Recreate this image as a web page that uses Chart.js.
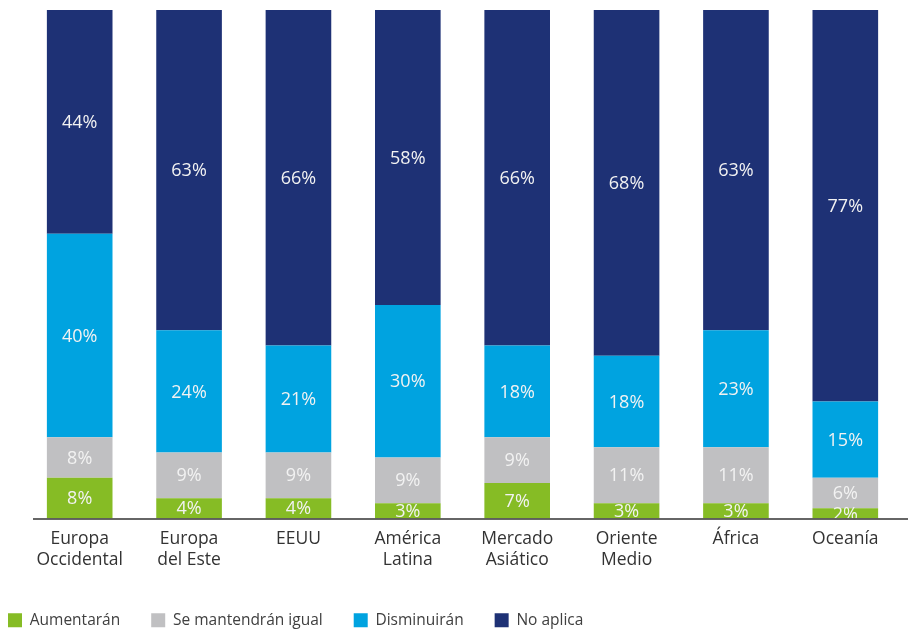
<!DOCTYPE html>
<html>
<head>
<meta charset="utf-8">
<script src="https://cdn.jsdelivr.net/npm/chart.js@4/dist/chart.umd.min.js"></script>
<style>
  html, body { margin: 0; padding: 0; background: #fff; }
  #wrap { width: 913px; height: 631px; }
</style>
</head>
<body>
<div id="wrap"><canvas id="chart"></canvas></div>
<script>
// regions (two-line labels)
const regiones = [
  ['Europa', 'Occidental'], ['Europa', 'del Este'], ['EEUU'], ['América', 'Latina'],
  ['Mercado', 'Asiático'], ['Oriente', 'Medio'], ['África'], ['Oceanía']
];

// percent of answers per region
const aumentaran   = [8, 4, 4, 3, 7, 3, 3, 2];
const mantendran   = [8, 9, 9, 9, 9, 11, 11, 6];
const disminuiran  = [40, 24, 21, 30, 18, 18, 23, 15];
const noAplica     = [44, 63, 66, 58, 66, 68, 63, 77];

const FONT = '"Open Sans", "Noto Sans", sans-serif';

// white % text in the middle of every segment
const segmentLabels = {
  id: 'segmentLabels',
  afterDatasetsDraw(chart) {
    const ctx = chart.ctx;
    ctx.save();
    ctx.font = '18px ' + FONT;
    ctx.fillStyle = '#f2f2f2';
    ctx.textAlign = 'center';
    ctx.textBaseline = 'middle';
    chart.data.datasets.forEach((ds, i) => {
      chart.getDatasetMeta(i).data.forEach((bar, j) => {
        ctx.fillText(ds.data[j] + '%', bar.x, (bar.y + bar.base) / 2 + 1);
      });
    });
    // baseline rule, a bit shifted right like the original
    const a = chart.chartArea;
    ctx.strokeStyle = '#333';
    ctx.lineWidth = 1.5;
    ctx.beginPath();
    ctx.moveTo(a.left + 8, a.bottom + 0.5);
    ctx.lineTo(a.right + 8, a.bottom + 0.5);
    ctx.stroke();
    ctx.restore();
  }
};

// nudge the legend to the bottom-left corner
const legendShift = {
  id: 'legendShift',
  afterLayout(chart) {
    chart.legend.left = -23;
    chart.legend.top += 7;
  }
};

new Chart(document.getElementById('chart'), {
  type: 'bar',
  data: {
    labels: regiones,
    datasets: [
      { label: 'Aumentarán', data: aumentaran, backgroundColor: '#86BC25' },
      { label: 'Se mantendrán igual', data: mantendran, backgroundColor: '#C0C0C2' },
      { label: 'Disminuirán', data: disminuiran, backgroundColor: '#00A3E0' },
      { label: 'No aplica', data: noAplica, backgroundColor: '#1E3175' }
    ]
  },
  options: {
    responsive: true,
    maintainAspectRatio: false,
    animation: false,
    layout: { padding: { top: 10, right: 13 } },
    datasets: { bar: { barPercentage: 0.6, categoryPercentage: 1, borderWidth: 0 } },
    scales: {
      x: {
        stacked: true,
        grid: { display: false },
        border: { display: false },
        ticks: { color: '#333', font: { family: FONT, size: 17.5 }, padding: 2, maxRotation: 0 },
        afterFit: s => { s.height = 56; }
      },
      y: {
        stacked: true,
        min: 0,
        max: 100,
        grid: { display: false },
        border: { display: false },
        ticks: { display: false },
        afterFit: s => { s.width = 25; }
      }
    },
    plugins: {
      legend: {
        position: 'bottom',
        align: 'start',
        labels: {
          boxWidth: 14,
          boxHeight: 14,
          padding: 31,
          color: '#404040',
          font: { family: FONT, size: 15.5 }
        }
      },
      tooltip: { enabled: false }
    }
  },
  plugins: [segmentLabels, legendShift]
});
</script>
</body>
</html>
